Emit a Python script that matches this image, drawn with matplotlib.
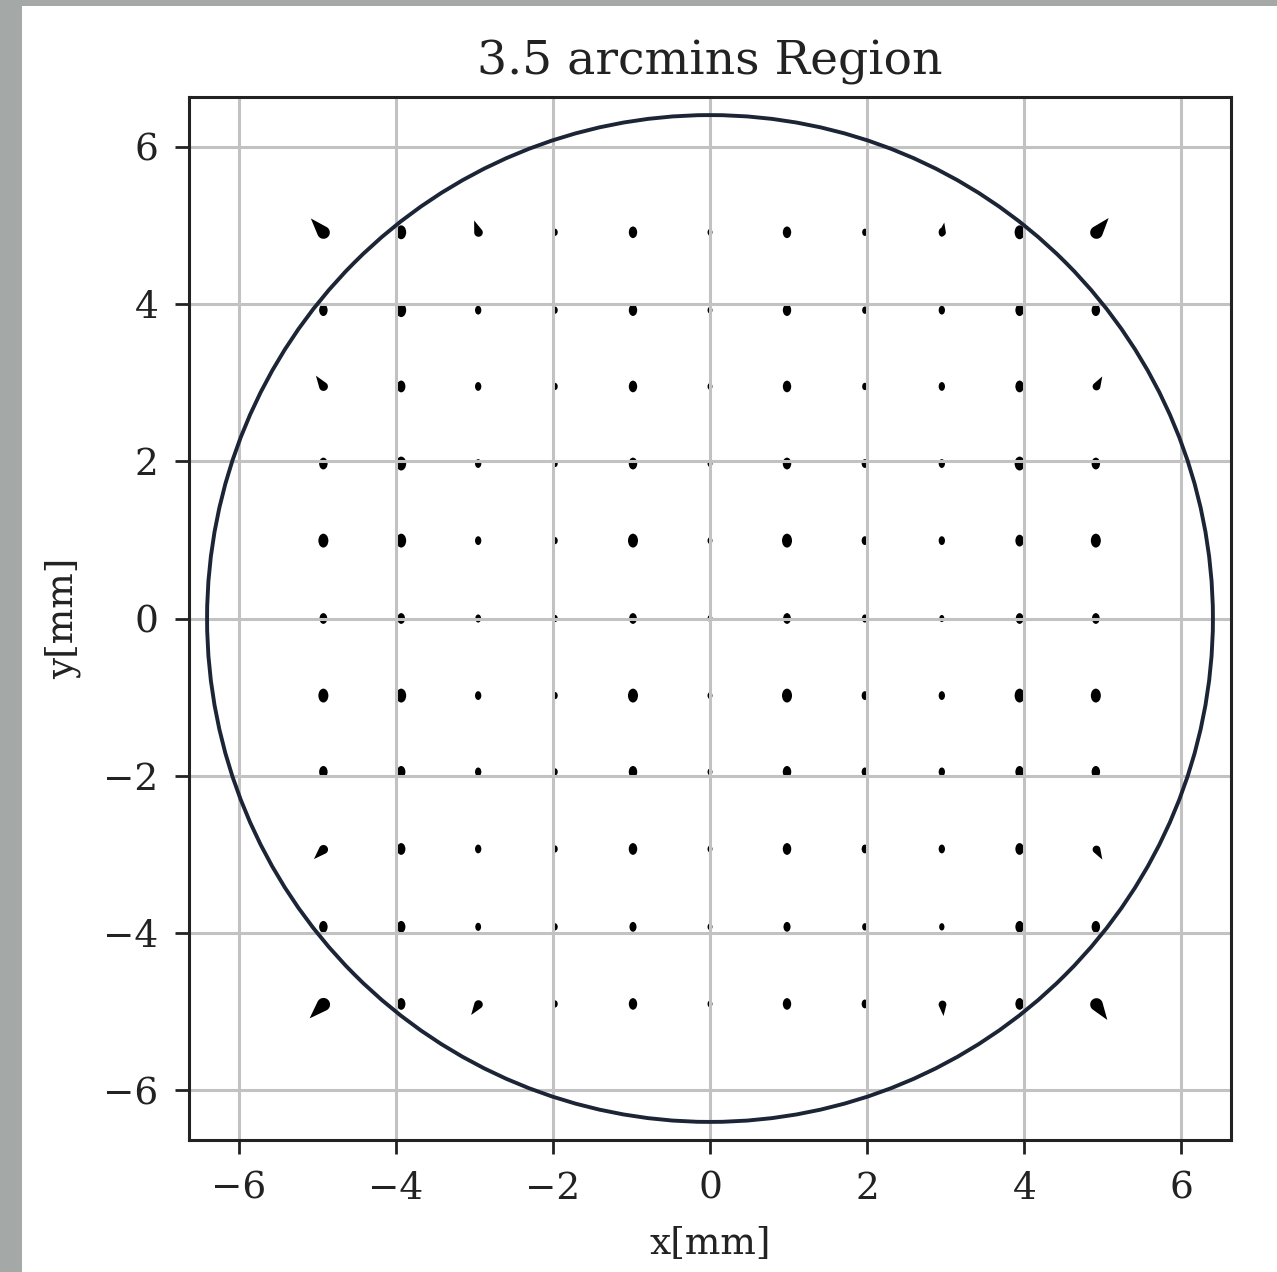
import matplotlib
matplotlib.use("Agg")
import matplotlib.pyplot as plt
import numpy as np
from matplotlib.markers import MarkerStyle
from matplotlib.patches import Circle, Rectangle
from matplotlib.path import Path
from matplotlib.transforms import Affine2D

# field positions of the spots [mm]
x_pos = [-4.92, -3.93, -2.95, -1.97, -0.98, 0.0, 0.98, 1.97, 2.95, 3.94, 4.91]
y_pos = [4.91, 3.92, 2.95, 1.97, 0.99, 0.0, -0.98, -1.95, -2.93, -3.92, -4.90]

# apparent spot size (marker area), rows top -> bottom, 0 = drawn as comet
spot_size = [
    [0, 100, 0, 26, 70, 24, 70, 28, 40, 100, 0],
    [72, 100, 40, 26, 70, 24, 70, 28, 40, 72, 72],
    [0, 72, 40, 26, 70, 24, 70, 28, 40, 72, 0],
    [72, 100, 40, 26, 72, 24, 72, 40, 40, 100, 72],
    [100, 100, 40, 26, 100, 24, 100, 40, 40, 72, 100],
    [60, 60, 34, 26, 60, 24, 60, 34, 26, 60, 60],
    [100, 100, 40, 26, 100, 24, 100, 40, 40, 100, 100],
    [72, 72, 40, 26, 72, 24, 72, 40, 40, 72, 72],
    [0, 72, 40, 26, 72, 24, 72, 40, 40, 72, 0],
    [72, 72, 34, 26, 50, 24, 50, 28, 28, 72, 72],
    [0, 72, 0, 26, 70, 24, 70, 40, 0, 72, 0],
]

# comet shaped spots: (column, row, tail direction [deg], marker size)
comets = [
    (0, 0, 132, 740), (2, 0, 110, 340), (10, 0, 50, 740), (8, 0, 80, 210),
    (0, 2, 125, 360), (10, 2, 60, 280),
    (0, 8, 225, 380), (10, 8, 300, 280),
    (0, 10, 225, 800), (2, 10, 235, 340), (10, 10, 305, 740), (8, 10, 275, 280),
]

aperture_radius = 6.4
ax_lim = 6.63
ticks = [-6, -4, -2, 0, 2, 4, 6]

plt.rcParams["font.family"] = "DejaVu Serif"

fig = plt.figure(figsize=(12.77, 12.72), dpi=100, facecolor="#a4a8a7")
fig.add_artist(Rectangle((22 / 1277, 0), 1, 1 - 6 / 1272, transform=fig.transFigure,
                         facecolor="white", edgecolor="none", zorder=-1))
ax = fig.add_axes([189 / 1277, 132 / 1272, 1042 / 1277, 1043 / 1272])

# slightly tall ellipse for the ordinary spots
ellipse = Path.unit_circle().transformed(Affine2D().scale(0.72, 1.0))

# teardrop (head at origin, tail pointing +y)
t = np.radians(np.linspace(19.5, -199.5, 40))
drop_verts = np.column_stack([np.cos(t), np.sin(t)]).tolist() + [[0, 3.0], [np.cos(t[0]), np.sin(t[0])]]
drop = Path(drop_verts)

xs, ys, ss = [], [], []
for j, yv in enumerate(y_pos):
    for i, xv in enumerate(x_pos):
        if spot_size[j][i] > 0:
            xs.append(xv)
            ys.append(yv)
            ss.append(spot_size[j][i])
ax.scatter(xs, ys, s=ss, marker=ellipse, color="black", linewidths=0, zorder=1)

for ci, rj, ang, sz in comets:
    m = MarkerStyle(drop, transform=Affine2D().rotate_deg(ang - 90))
    ax.scatter([x_pos[ci]], [y_pos[rj]], s=sz, marker=m, color="black", linewidths=0, zorder=1)

ax.add_patch(Circle((0, 0), aperture_radius, fill=False, edgecolor="#1c2535", linewidth=2.8, zorder=2))

ax.set_xlim(-ax_lim, ax_lim)
ax.set_ylim(-ax_lim, ax_lim)
ax.set_xticks(ticks)
ax.set_yticks(ticks)
ax.grid(True, color="#c2c2c2", linewidth=2.2)
ax.tick_params(labelsize=27, length=10, width=2, colors="#222222", pad=12)
for sp in ax.spines.values():
    sp.set_linewidth(2.2)
    sp.set_color("#222222")

ax.set_title("3.5 arcmins Region", fontsize=34, color="#222222", pad=16)
ax.set_xlabel("x[mm]", fontsize=27, color="#222222", labelpad=14)
ax.set_ylabel("y[mm]", fontsize=27, color="#222222", labelpad=16)

fig.savefig("out.png", dpi=100, facecolor=fig.get_facecolor())
